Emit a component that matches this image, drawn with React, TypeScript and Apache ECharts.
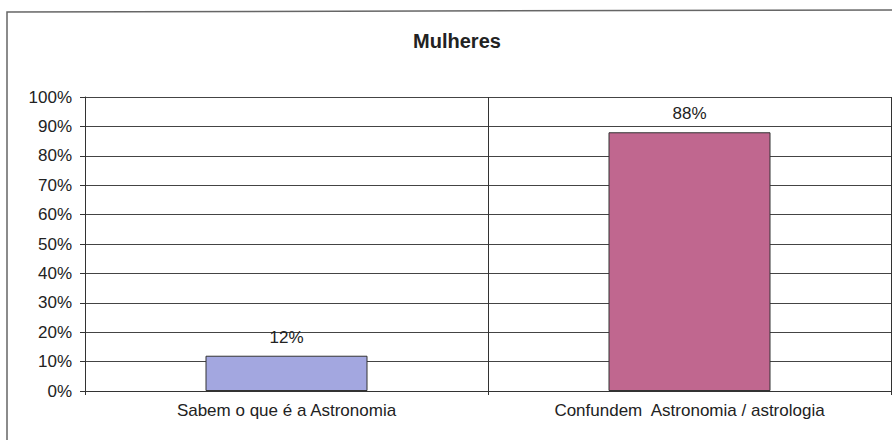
import React, { useEffect, useRef } from "react";
import * as echarts from "echarts";

const categories = ["Sabem o que é a Astronomia", "Confundem  Astronomia / astrologia"];
const values = [12, 88];
const barColors = ["#a3a7e0", "#c0678f"];
const titleText = "Mulheres";

export default function App() {
  const ref = useRef<HTMLDivElement>(null);
  useEffect(() => {
    if (!ref.current) return;
    const chart = echarts.init(ref.current, undefined, { renderer: "svg" });
    chart.setOption({
      animation: false,
      backgroundColor: "#ffffff",
      title: {
        text: titleText,
        left: 452,
        textAlign: "center",
        top: 26,
        textStyle: { fontFamily: "Liberation Sans, Arial", fontWeight: "bold", fontSize: 20, color: "#222" },
      },
      graphic: [
        {
          type: "polyline",
          shape: { points: [[7, 440], [7, 12], [892, 10]] },
          style: { stroke: "#666", lineWidth: 1.5, fill: "none" },
        },
      ],
      grid: { left: 85, right: 1, top: 97, bottom: 49 },
      xAxis: {
        type: "category",
        data: categories,
        axisLine: { show: true, lineStyle: { color: "#333" } },
        axisTick: { show: true, length: 4, lineStyle: { color: "#333" } },
        splitLine: { show: true, lineStyle: { color: "#333", width: 1 } },
        axisLabel: { fontFamily: "Liberation Sans, Arial", fontSize: 17, color: "#222", margin: 11 },
      },
      yAxis: {
        type: "value",
        min: 0,
        max: 100,
        interval: 10,
        axisLine: { show: true, lineStyle: { color: "#333" } },
        axisTick: { show: true, length: 5, lineStyle: { color: "#333" } },
        splitLine: { show: true, lineStyle: { color: "#444", width: 1 } },
        axisLabel: { formatter: "{value}%", fontFamily: "Liberation Sans, Arial", fontSize: 17, color: "#222", margin: 13 },
      },
      series: [
        {
          type: "bar",
          barWidth: 162,
          data: values.map((v, i) => ({
            value: v,
            itemStyle: { color: barColors[i], borderColor: "#333", borderWidth: 1 },
          })),
          label: {
            show: true,
            position: "top",
            distance: 10,
            formatter: "{c}%",
            fontFamily: "Liberation Sans, Arial",
            fontSize: 17,
            color: "#222",
          },
        },
      ],
    });
    return () => chart.dispose();
  }, []);
  return <div ref={ref} style={{ position: "absolute", left: 0, top: 0, width: 892, height: 440 }} />;
}
